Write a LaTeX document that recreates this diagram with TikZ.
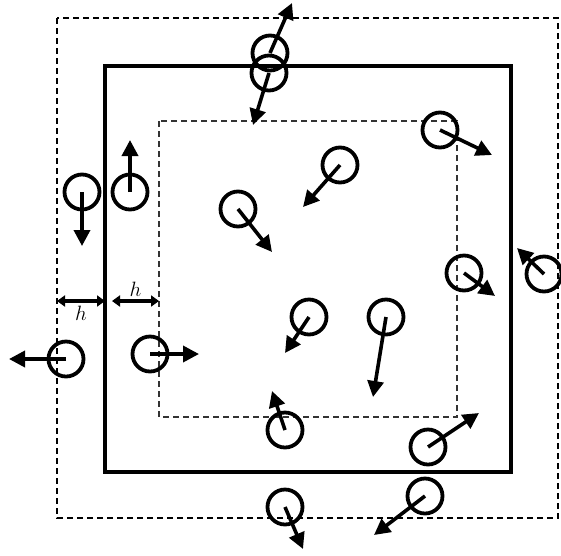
\documentclass[tikz,border=0pt]{standalone}
\usetikzlibrary{arrows.meta}
\begin{document}
\begin{tikzpicture}[x=1pt,y=-1pt,
  particle/.style={circle,draw,line width=3.8pt,minimum size=35pt,inner sep=0pt},
  vel/.style={line width=3.6pt,-{Triangle[length=16pt,width=16pt]}},
  dim/.style={line width=3.2pt,{Triangle[length=8pt,width=11pt]}-{Triangle[length=8pt,width=11pt]}},
  outerbox/.style={line width=2pt,dash pattern=on 6pt off 4pt},
  innerbox/.style={line width=2pt,dash pattern=on 6pt off 4pt,draw=black!80},
  domainbox/.style={line width=3.4pt},
  hlabel/.style={font=\fontsize{20}{20}\selectfont,inner sep=1pt}]
\useasboundingbox (0,0) rectangle (561,555);
\draw[outerbox] (57,18) rectangle (558,518);
\draw[domainbox] (105,66) rectangle (511,472);
\draw[innerbox] (159,121) rectangle (457,417);
\foreach \n/\cx/\cy/\tx/\ty in {
  a/270/53/292/3, b/269/73/253/125, c/440/130/492/155, d/340/165/303/207,
  e/130/192/130/140, f/82/192/82/246, g/238/209/272/252, i/464/273/495/296,
  j/544/274/517/248, k/309/317/285/353, l/386/317/373/397, m/66/359/9/359,
  n/150/354/199/354, o/285/430/272/391, p/428/447/479/413, q/425/496/374/535,
  r/285/507/303/549}{
  \node[particle] (\n) at (\cx,\cy) {};
  \coordinate (\n t) at (\tx,\ty);
  \draw[vel] (\n.center) -- (\n t);
}
\coordinate (hl1) at (57,301);
\coordinate (hr1) at (105,301);
\coordinate (hl2) at (112,301);
\coordinate (hr2) at (159,301);
\draw[dim] (hl1) -- (hr1) node[midway,below=2pt,hlabel] (h1) {$h$};
\draw[dim] (hl2) -- (hr2) node[midway,above=2pt,hlabel] (h2) {$h$};
\end{tikzpicture}
\end{document}
